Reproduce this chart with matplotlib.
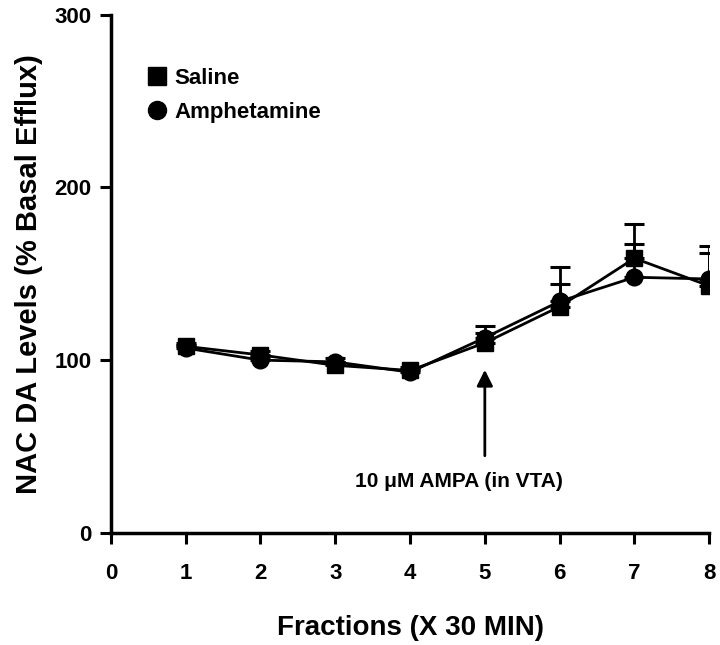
import numpy as np
import matplotlib.pyplot as plt
from matplotlib.lines import Line2D

plt.rcParams['font.family'] = ['Liberation Sans', 'DejaVu Sans']
plt.rcParams['font.weight'] = 'bold'

fractions = [1, 2, 3, 4, 5, 6, 7, 8]
saline = [108, 103, 97, 94, 110, 131, 159, 143]
saline_err = [2, 2, 2, 2, 6, 23, 20, 23]
amph = [107, 100, 99, 93, 113, 134, 148, 147]
amph_err = [2, 2, 2, 2, 7, 10, 19, 15]

fig = plt.figure(figsize=(7.2, 6.45), dpi=100)
ax = fig.add_axes([0.154, 0.174, 0.831, 0.803])

ax.errorbar(fractions, saline, yerr=[np.zeros(8), saline_err], color='black',
            marker='s', markersize=12, linewidth=2, capsize=7, capthick=2.2,
            elinewidth=2, zorder=3)
ax.errorbar(fractions, amph, yerr=[np.zeros(8), amph_err], color='black',
            marker='o', markersize=12, linewidth=2, capsize=7, capthick=2.2,
            elinewidth=2, zorder=3)

# arrow for AMPA injection
ax.annotate('', xy=(5, 96), xytext=(5, 43),
            arrowprops=dict(arrowstyle='-|>', color='black', lw=2,
                            mutation_scale=24))
ax.text(4.65, 29.5, '10 \u03bcM AMPA (in VTA)', ha='center', va='center',
        fontsize=15, fontweight='bold')

ax.set_xlim(0, 8)
ax.set_ylim(0, 300)
ax.set_xticks(range(0, 9))
ax.set_yticks([0, 100, 200, 300])
ax.tick_params(labelsize=16, width=2.2, length=8)
ax.tick_params(axis='x', pad=14)
ax.tick_params(axis='y', pad=6)
for lab in ax.get_xticklabels() + ax.get_yticklabels():
    lab.set_fontweight('bold')
ax.spines['top'].set_visible(False)
ax.spines['right'].set_visible(False)
ax.spines['left'].set_linewidth(2.5)
ax.spines['bottom'].set_linewidth(2.5)

ax.set_xlabel('Fractions (X 30 MIN)', fontsize=20, fontweight='bold', labelpad=22)
ax.set_ylabel('NAC DA Levels (% Basal Efflux)', fontsize=21, fontweight='bold', labelpad=8)

handles = [Line2D([], [], color='black', marker='s', markersize=13, linestyle='none'),
           Line2D([], [], color='black', marker='o', markersize=13, linestyle='none')]
leg = ax.legend(handles, ['Saline', 'Amphetamine'], loc='upper left',
                bbox_to_anchor=(0.05, 0.915), frameon=False, fontsize=16,
                handlelength=0.7, handletextpad=0.4, labelspacing=0.6,
                borderaxespad=0)
for t in leg.get_texts():
    t.set_fontweight('bold')

fig.savefig('out.png', dpi=100)
